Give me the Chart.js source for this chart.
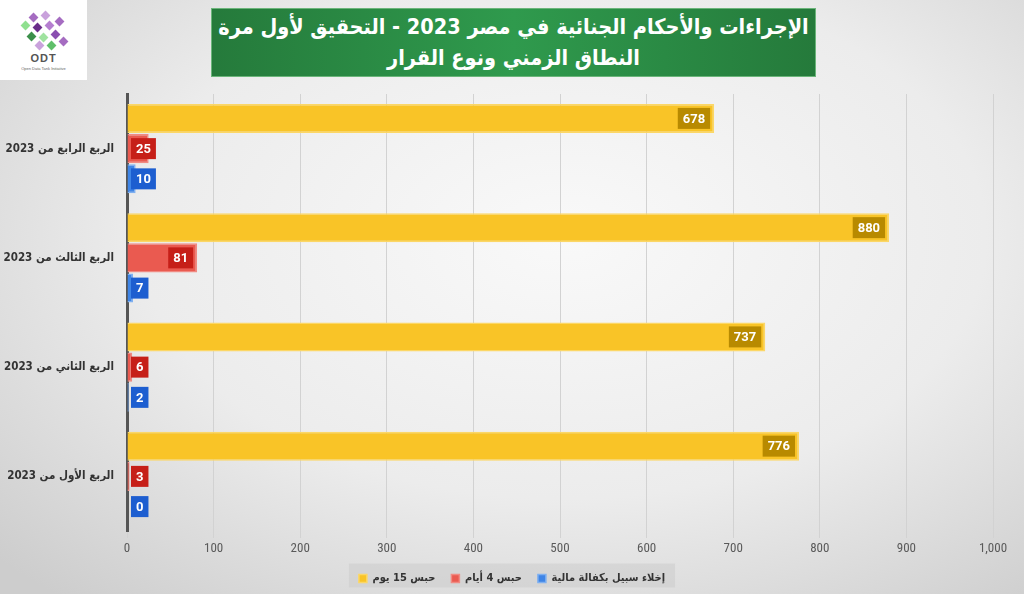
<!DOCTYPE html>
<html>
<head>
<meta charset="utf-8">
<script src="https://cdn.jsdelivr.net/npm/chart.js@4"></script>
<style>
  html, body { margin: 0; padding: 0; }
  body {
    width: 1024px; height: 594px; overflow: hidden; position: relative;
    background: radial-gradient(ellipse 75% 80% at 55% 40%, #f9f9f9 0%, #ececec 55%, #cdcdcd 100%);
    font-family: "Liberation Sans", "DejaVu Sans", sans-serif;
  }
  #logo {
    position: absolute; left: 0; top: 0; width: 87px; height: 80px; background: #fff;
  }
  #logo .c { position: absolute; width: 7px; height: 7px; transform: rotate(45deg); }
  #logo .t1 { position: absolute; left: 0; width: 87px; top: 52px; text-align: center; font-size: 11px; font-weight: bold; color: #555; letter-spacing: 1px; }
  #logo .t2 { position: absolute; left: 0; width: 87px; top: 66px; text-align: center; font-size: 4px; color: #666; }
  #title {
    position: absolute; left: 211px; top: 8px; width: 605px; height: 69px;
    background: linear-gradient(90deg, #257a3b 0%, #2f9a4d 50%, #257a3b 100%);
    border: 1px solid #6bb57a;
    color: #fff; font-weight: bold; font-size: 21.5px; line-height: 31px;
    text-align: center; direction: rtl; padding-top: 2px; box-sizing: border-box;
    white-space: nowrap;
    font-family: "DejaVu Sans Condensed", "DejaVu Sans", sans-serif;
  }
  #wrap { position: absolute; left: 0; top: 0; width: 1024px; height: 594px; }
</style>
</head>
<body>
<div id="logo">
  <div class="c" style="left:30px;top:14px;background:#a56cc1"></div>
  <div class="c" style="left:42px;top:12px;background:#c9a2dc"></div>
  <div class="c" style="left:22px;top:22px;background:#8fe08f"></div>
  <div class="c" style="left:34px;top:24px;background:#6a2d8a"></div>
  <div class="c" style="left:46px;top:22px;background:#b57fd0"></div>
  <div class="c" style="left:56px;top:18px;background:#a56cc1"></div>
  <div class="c" style="left:28px;top:33px;background:#3b8f4a"></div>
  <div class="c" style="left:40px;top:34px;background:#9fe39f"></div>
  <div class="c" style="left:52px;top:31px;background:#8a4fb0"></div>
  <div class="c" style="left:36px;top:42px;background:#c9a2dc"></div>
  <div class="c" style="left:48px;top:42px;background:#5fbf6a"></div>
  <div class="c" style="left:60px;top:38px;background:#a56cc1"></div>
  <div class="t1">ODT</div>
  <div class="t2">Open Data Tank Initiative</div>
</div>
<div id="title">الإجراءات والأحكام الجنائية في مصر 2023 - التحقيق لأول مرة<br>النطاق الزمني ونوع القرار</div>
<div id="wrap"><canvas id="chart" width="1024" height="594"></canvas></div>
<script>
const categories = ["الربع الرابع من 2023", "الربع الثالث من 2023", "الربع الثاني من 2023", "الربع الأول من 2023"];
const seriesNames = ["حبس 15 يوم", "حبس 4 أيام", "إخلاء سبيل بكفالة مالية"];
const detention15 = [678, 880, 737, 776];
const detention4 = [25, 81, 6, 3];
const bailRelease = [10, 7, 2, 0];
const xTicks = [0, 100, 200, 300, 400, 500, 600, 700, 800, 900, 1000];

const barColors = ["#f9c427", "#ea5a50", "#3f85e6"];
const barBorders = ["#fcd766", "#f08a82", "#7fb0f0"];
const labelColors = ["#b88a00", "#c61f18", "#1d5ed0"];
const arabicFont = "'DejaVu Sans Condensed', 'DejaVu Sans', sans-serif";

// value boxes at bar end, pushed right of the axis for short bars
const valueBoxes = {
  id: "valueBoxes",
  afterDatasetsDraw(chart) {
    const ctx = chart.ctx;
    const x0 = chart.scales.x.getPixelForValue(0);
    ctx.save();
    ctx.font = "bold 13px Roboto, 'Liberation Sans', sans-serif";
    ctx.textAlign = "center";
    ctx.textBaseline = "middle";
    chart.data.datasets.forEach((ds, di) => {
      chart.getDatasetMeta(di).data.forEach((bar, i) => {
        const txt = String(ds.data[i]);
        const w = ctx.measureText(txt).width + 10;
        const h = 21;
        let right = bar.x - 4;
        if (right - w < x0 + 4) right = x0 + 4 + w;
        ctx.fillStyle = labelColors[di];
        ctx.fillRect(right - w, bar.y - h / 2, w, h);
        ctx.fillStyle = "#ffffff";
        ctx.fillText(txt, right - w / 2, bar.y + 1);
      });
    });
    ctx.restore();
  }
};

// centre the legend on the page and put a grey panel behind it
const legendPanel = {
  id: "legendPanel",
  afterLayout(chart) {
    const lg = chart.legend;
    const shift = chart.width / 2 - (lg.left + lg.right) / 2;
    lg.left += shift;
    lg.right += shift;
  },
  beforeDraw(chart) {
    const lg = chart.legend;
    if (!lg || !lg.lineWidths) return;
    const cx = (lg.left + lg.right) / 2;
    const w = lg.lineWidths[0] + 4;
    const cy = (lg.top + lg.bottom) / 2;
    const ctx = chart.ctx;
    ctx.save();
    ctx.fillStyle = "rgba(200,200,200,0.45)";
    ctx.fillRect(cx - w / 2, cy - 12, w, 24);
    ctx.restore();
  }
};

new Chart(document.getElementById("chart"), {
  type: "bar",
  data: {
    labels: categories,
    datasets: [detention15, detention4, bailRelease].map((d, i) => ({
      label: seriesNames[i],
      data: d,
      backgroundColor: barColors[i],
      borderColor: barBorders[i],
      borderWidth: 1.5,
      categoryPercentage: 0.83,
      barPercentage: 0.96
    }))
  },
  options: {
    indexAxis: "y",
    responsive: false,
    animation: false,
    layout: { padding: { top: 94, right: 31, bottom: 0, left: 0 } },
    scales: {
      x: {
        min: 0, max: 1000,
        afterBuildTicks(scale) { scale.ticks = xTicks.map(v => ({ value: v })); },
        afterFit(scale) { scale.height = 26; },
        grid: { color: "#d2d2d2", lineWidth: 1, tickLength: 7, drawOnChartArea: true },
        border: { display: false },
        ticks: {
          color: "#5a5a5a",
          padding: 3,
          font: { family: "'Liberation Sans Narrow', 'Roboto Condensed', Roboto, sans-serif", size: 13 },
          callback: v => v.toLocaleString("en-US")
        }
      },
      y: {
        afterFit(scale) { scale.width = 127; },
        grid: { display: false },
        border: { display: true, color: "#555555", width: 3 },
        ticks: {
          color: "#333333",
          padding: 5,
          font: { family: arabicFont, size: 11.5, weight: "bold" }
        }
      }
    },
    plugins: {
      legend: {
        position: "bottom",
        labels: {
          boxWidth: 8, boxHeight: 8, padding: 16,
          color: "#333333",
          font: { family: arabicFont, size: 11, weight: "bold" }
        }
      },
      tooltip: { enabled: false }
    }
  },
  plugins: [legendPanel, valueBoxes]
});
</script>
</body>
</html>
